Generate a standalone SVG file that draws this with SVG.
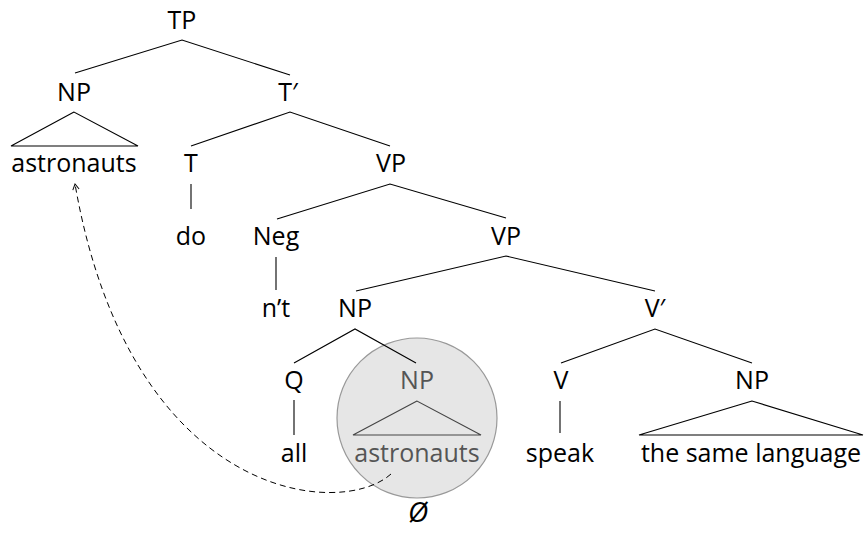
<svg xmlns="http://www.w3.org/2000/svg" width="865" height="533" viewBox="0 0 865 533">
<defs>
<style>
text{font-family:"Open Sans","Liberation Sans",sans-serif;font-size:25px;fill:#000;text-anchor:middle}
.e line,.e polyline{stroke:#000;stroke-width:1.1;fill:none}
.g{fill:#555}
.gl{stroke:#444;stroke-width:1.1;fill:none}
</style>
<marker id="ah" viewBox="0 0 10 10" refX="9" refY="5" markerWidth="8" markerHeight="8" orient="auto" markerUnits="userSpaceOnUse">
<polyline points="2,1 9,5 2,9" fill="none" stroke="#000" stroke-width="1.2"/>
</marker>
</defs>
<rect width="865" height="533" fill="#fff"/>
<circle cx="417" cy="418" r="80" fill="#e6e6e6" stroke="#999" stroke-width="1.2"/>
<g class="e" id="edges">
<polyline points="75,73 182,40 290,75"/>
<polyline points="191,146 290,112 390,146"/>
<line x1="191" y1="184" x2="191" y2="209"/>
<polyline points="277,219 390,184 506,218"/>
<line x1="276" y1="257" x2="276" y2="290"/>
<polyline points="356,291 506,256 655,291"/>
<polyline points="294,363 355,329 416,363"/>
<line x1="294" y1="400" x2="294" y2="435"/>
<polyline points="561,363 655,329 752,363"/>
<line x1="560" y1="401" x2="560" y2="433"/>
<path d="M391,474 C340,520 130,500 75,184" fill="none" stroke="#000" stroke-width="1" stroke-dasharray="6,4" marker-end="url(#ah)"/>
</g>
<g id="TP"><text x="182" y="29">TP</text></g>
<g id="NP1"><text x="74" y="101">NP</text><polygon points="74,112 11,146 138,146" fill="none" stroke="#000" stroke-width="1.1"/><text x="74" y="172">astronauts</text></g>
<g id="Tbar"><text x="288" y="101">T′</text></g>
<g id="T"><text x="191" y="172">T</text></g>
<g id="do"><text x="191" y="245">do</text></g>
<g id="VP1"><text x="391" y="172">VP</text></g>
<g id="Neg"><text x="276" y="245">Neg</text></g>
<g id="nt"><text x="276" y="317">n’t</text></g>
<g id="VP2"><text x="506" y="245">VP</text></g>
<g id="NP2"><text x="355" y="317">NP</text></g>
<g id="Vbar"><text x="655" y="317">V′</text></g>
<g id="Q"><text x="294" y="389">Q</text></g>
<g id="all"><text x="294" y="462">all</text></g>
<g id="NP3"><text class="g" x="417" y="389">NP</text><polygon class="gl" points="417,401 353,435 481,435"/><text class="g" x="417" y="462">astronauts</text></g>
<g id="null"><text x="418" y="522" font-style="italic" style="font-size:28px">Ø</text></g>
<g id="V"><text x="561" y="389">V</text></g>
<g id="speak"><text x="560" y="462">speak</text></g>
<g id="NP4"><text x="752" y="389">NP</text><polygon points="752,401 639,435 863,435" fill="none" stroke="#000" stroke-width="1.1"/><text x="751" y="462">the same language</text></g>
</svg>
